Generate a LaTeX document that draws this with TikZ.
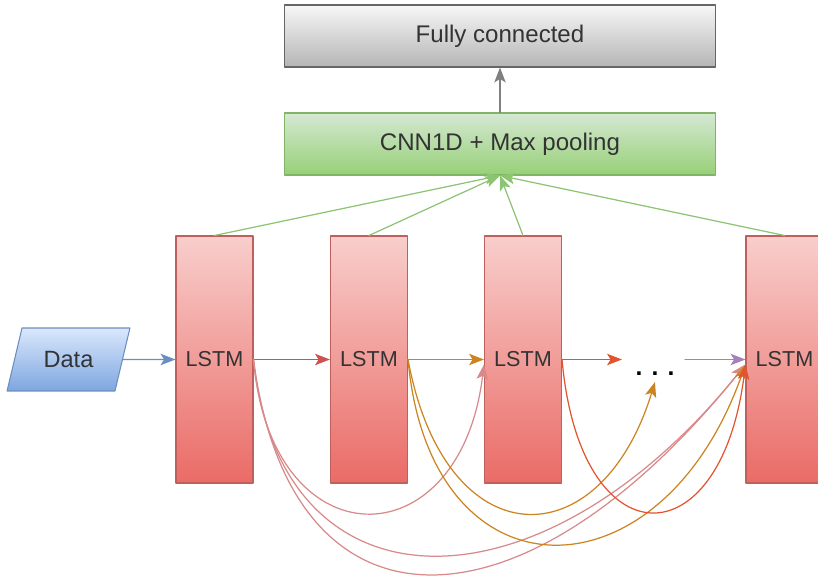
\documentclass[tikz,border=0pt]{standalone}
\usepackage{fontspec}
\setmainfont{Liberation Sans}
\usetikzlibrary{arrows.meta,shapes.geometric}
\definecolor{fcTop}{HTML}{F7F7F7}
\definecolor{fcBot}{HTML}{B5B5B5}
\definecolor{fcLine}{HTML}{666666}
\definecolor{cnnTop}{HTML}{D5E8D4}
\definecolor{cnnBot}{HTML}{97D077}
\definecolor{cnnLine}{HTML}{82B366}
\definecolor{lstmTop}{HTML}{F8CECC}
\definecolor{lstmBot}{HTML}{EA6B66}
\definecolor{lstmLine}{HTML}{C0605C}
\definecolor{dataTop}{HTML}{DAE8FC}
\definecolor{dataBot}{HTML}{7EA6E0}
\definecolor{dataLine}{HTML}{6C8EBF}
\definecolor{txt}{HTML}{333333}
\definecolor{pinkL}{HTML}{D8898A}
\definecolor{redL}{HTML}{CC5450}
\definecolor{orangeL}{HTML}{CC8420}
\definecolor{fireL}{HTML}{E2542E}
\definecolor{purpleL}{HTML}{A680B8}
\definecolor{greenL}{HTML}{8CC474}
\begin{document}
\begin{tikzpicture}[x=0.02cm, y=-0.02cm, line join=round, line cap=round,
	>={Stealth[length=8.5pt,width=6.5pt,inset=2pt]},
	box/.style={draw, line width=0.6pt, minimum width=8.64cm, minimum height=1.24cm,
		inner sep=0pt, text=txt, font=\fontsize{13.7}{16}\selectfont},
	lstm/.style={draw=lstmLine, line width=0.6pt, top color=lstmTop, bottom color=lstmBot,
		minimum width=1.54cm, minimum height=4.94cm, inner sep=0pt, text=txt,
		font=\fontsize{12.3}{14}\selectfont},
	link/.style={->, line width=0.7pt}]
	\useasboundingbox (0,0) rectangle (818,580);
	% cac khoi
	\node[box, draw=fcLine, top color=fcTop, bottom color=fcBot] (fc) at (500,36) {Fully connected};
	\node[box, draw=cnnLine, top color=cnnTop, bottom color=cnnBot] (cnn) at (500,144) {CNN1D + Max pooling};
	\node[trapezium, trapezium left angle=64, trapezium right angle=116, trapezium stretches=true,
		draw=dataLine, line width=0.6pt, top color=dataTop, bottom color=dataBot,
		minimum width=2.46cm, minimum height=1.26cm, inner sep=0pt, text=txt,
		font=\fontsize{13.4}{16}\selectfont] (data) at (68.5,359.5) {Data};
	\foreach \n/\x in {l1/214.5, l2/369, l3/523, l4/784.5}
		\node[lstm] (\n) at (\x,359.5) {LSTM};
	\node[inner sep=0pt, font=\bfseries\fontsize{14}{16}\selectfont] (dots) at (655,374) {. . .};
	\path (622,359.5) coordinate (r3)
		(685,359.5) coordinate (p4)
		(655,382) coordinate (d3);
	% mui ten thang
	\draw[link, black!50] (cnn) -- (fc);
	\foreach \n in {l1,l2,l3,l4}
		\draw[link, greenL] (\n.north) -- (cnn.south);
	\draw[link, dataLine] (data.east) -- (l1.west);
	\draw[link, redL] (l1.east) -- (l2.west);
	\draw[link, orangeL] (l2.east) -- (l3.west);
	\draw[link, fireL] (l3.east) -- (r3);
	\draw[link, purpleL] (p4) -- (l4.west);
	% cac duong cong
	\draw[link, pinkL] (l1.east) .. controls +(17,203.5) and +(-24,198.5) .. ([yshift=-0.1cm]l3.west);
	\draw[link, pinkL] (l1.east) .. controls +(27,260) and +(-205,255) .. ([yshift=-0.1cm]l4.west);
	\draw[link, pinkL] (l1.east) .. controls +(37,285) and +(-225,280) .. ([yshift=-0.1cm]l4.west);
	\draw[link, orangeL] (l2.east) .. controls +(37,200) and +(-55,179) .. (d3);
	\draw[link, orangeL] (l2.east) .. controls +(22,245) and +(-85,240) .. ([yshift=-0.1cm]l4.west);
	\draw[link, fireL] (l3.east) .. controls +(18,202) and +(-25,197) .. ([yshift=-0.1cm]l4.west);
\end{tikzpicture}
\end{document}
